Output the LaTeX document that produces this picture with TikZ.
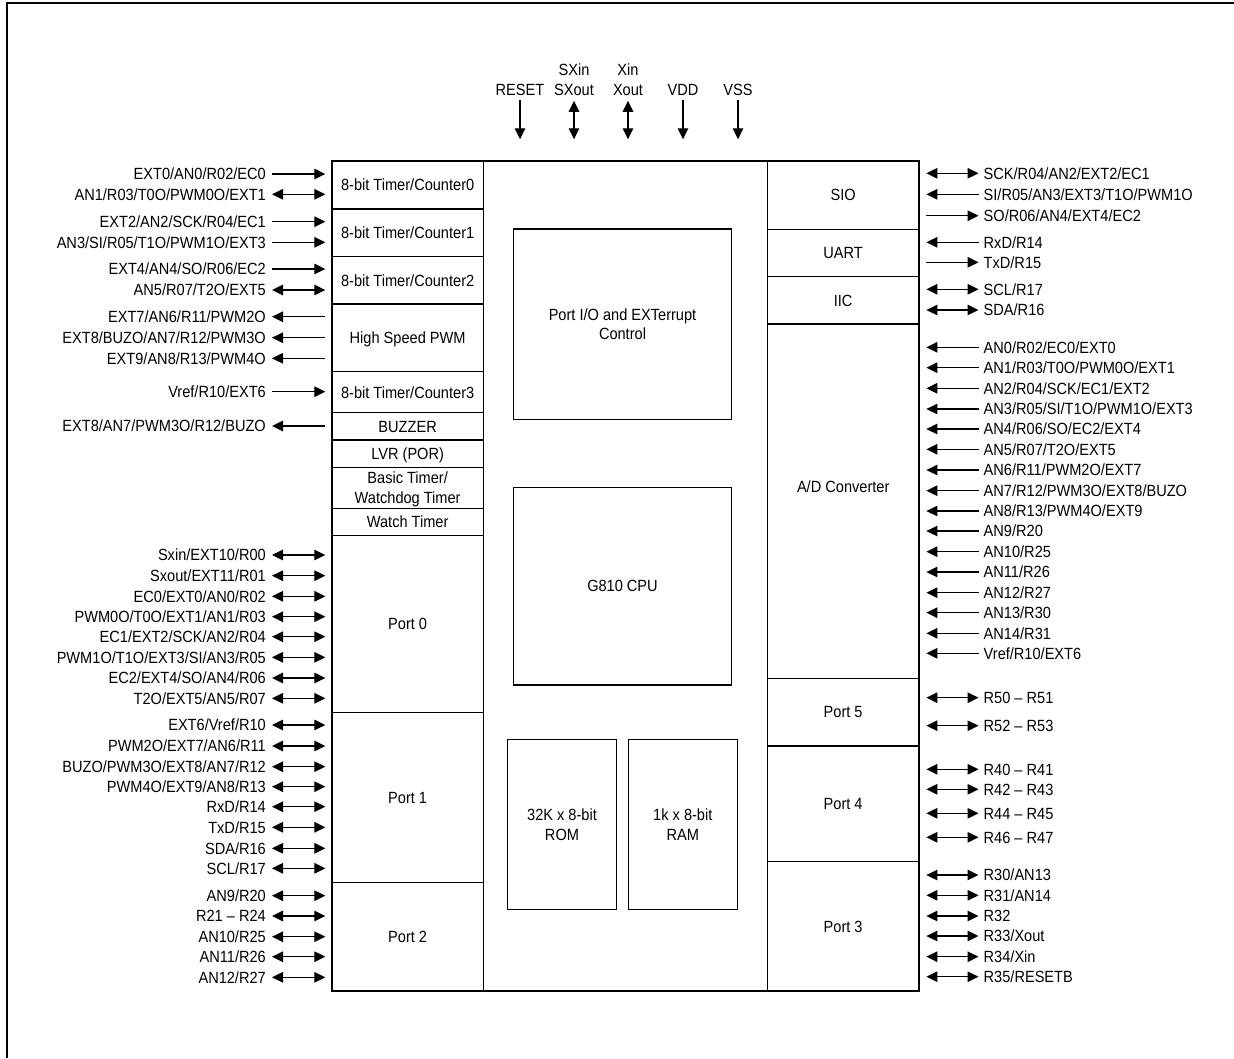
\documentclass[tikz,border=0pt]{standalone}
\usepackage{fontspec}
\setmainfont{Liberation Sans}[FakeStretch=0.9]
\usetikzlibrary{arrows.meta}
\newcommand\mkbox[7][]{\node[box,#1,minimum width={#5-#3},minimum height={#6-#4}] (#2) at ({(#3+#5)/2},{(#4+#6)/2}) {#7};}
\newcommand\lftpin[5]{\node[lbl,anchor=east] (#1) at (266,#2) {#3};
  \draw[cn,#5] ([xshift=6pt]#1.east) -- ([xshift=-6pt]#1.east -| #4.west);}
\newcommand\rgtpin[5]{\node[lbl,anchor=west] (#1) at (983.5,#2) {#3};
  \draw[cn,#5] ([xshift=6.7pt]#1.west -| #4.east) -- ([xshift=-5pt]#1.west);}
\begin{document}
\begin{tikzpicture}[x=1pt,y=-1pt,
  every node/.style={font=\fontsize{16.2}{19.8}\selectfont},
  box/.style={draw,line width=1.4pt,inner sep=0pt,text height=11.6pt,text depth=0pt,align=center},
  lbl/.style={inner sep=0pt,text height=11.6pt,text depth=0pt,align=center},
  cn/.style={line width=1.3pt,>={Triangle[length=11pt,width=10.5pt]}},
  two/.style={text height=31.4pt,text depth=0pt}]
\useasboundingbox (0,0) rectangle (1234,1058);
\draw[line width=2.8pt] (7,1058) -- (7,3) -- (1234,3);
% core
\mkbox{core}{483.3}{161}{767.3}{991}{}
% left column
\mkbox{t0}{332}{161}{483.3}{209}{8-bit Timer/Counter0}
\mkbox{t1}{332}{209}{483.3}{256.7}{8-bit Timer/Counter1}
\mkbox{t2}{332}{256.7}{483.3}{304}{8-bit Timer/Counter2}
\mkbox{hp}{332}{304}{483.3}{371.7}{High Speed PWM}
\mkbox{t3}{332}{371.7}{483.3}{412.7}{8-bit Timer/Counter3}
\mkbox{bz}{332}{412.7}{483.3}{440}{BUZZER}
\mkbox{lvr}{332}{440}{483.3}{467.3}{LVR (POR)}
\mkbox[two]{bt}{332}{467.3}{483.3}{508.3}{Basic Timer/\\Watchdog Timer}
\mkbox{wt}{332}{508.3}{483.3}{535.7}{Watch Timer}
\mkbox{p0}{332}{535.7}{483.3}{712.3}{Port 0}
\mkbox{p1}{332}{712.3}{483.3}{882.3}{Port 1}
\mkbox{p2}{332}{882.3}{483.3}{991}{Port 2}
% right column
\mkbox{sio}{767.3}{161}{919}{229.3}{SIO}
\mkbox{uart}{767.3}{229.3}{919}{276.7}{UART}
\mkbox{iic}{767.3}{276.7}{919}{324}{IIC}
\mkbox{adc}{767.3}{324}{919}{678.3}{}
\node[lbl] (adct) at (843.2,486.7) {A/D Converter};
\mkbox{p5}{767.3}{678.3}{919}{746}{Port 5}
\mkbox{p4}{767.3}{746}{919}{861.7}{Port 4}
\mkbox{p3}{767.3}{861.7}{919}{991}{Port 3}
% inner blocks
\mkbox[two]{pio}{513.3}{229}{731.7}{419.3}{Port I/O and EXTerrupt\\Control}
\mkbox{cpu}{513.3}{487.3}{731.7}{685}{G810 CPU}
\mkbox[two]{rom}{507.3}{739.3}{616.7}{909.3}{32K x 8-bit\\ROM}
\mkbox[two]{ram}{628.3}{739.3}{737.3}{909.3}{1k x 8-bit\\RAM}
% top pins
\node[lbl] (reset) at (520,89.3) {RESET};
\node[lbl,two] (sx) at (574,79.3) {SXin\\SXout};
\node[lbl,two] (xx) at (628,79.3) {Xin\\Xout};
\node[lbl] (vdd) at (683,89.3) {VDD};
\node[lbl] (vss) at (738,89.3) {VSS};
\draw[cn,->] ([yshift=-4.4pt]reset.south) -- ([yshift=21pt]reset.south |- core.north);
\draw[cn,<->] ([yshift=-5.6pt]sx.south) -- ([yshift=21pt]sx.south |- core.north);
\draw[cn,<->] ([yshift=-5.6pt]xx.south) -- ([yshift=21pt]xx.south |- core.north);
\draw[cn,->] ([yshift=-4.4pt]vdd.south) -- ([yshift=21pt]vdd.south |- core.north);
\draw[cn,->] ([yshift=-4.4pt]vss.south) -- ([yshift=21pt]vss.south |- core.north);
% left pins
\lftpin{la1}{174}{EXT0/AN0/R02/EC0}{t0}{->}
\lftpin{la2}{194.3}{AN1/R03/T0O/PWM0O/EXT1}{t0}{<->}
\lftpin{la3}{221.7}{EXT2/AN2/SCK/R04/EC1}{t1}{->}
\lftpin{la4}{242.3}{AN3/SI/R05/T1O/PWM1O/EXT3}{t1}{->}
\lftpin{la5}{269}{EXT4/AN4/SO/R06/EC2}{t2}{->}
\lftpin{la6}{290}{AN5/R07/T2O/EXT5}{t2}{<->}
\lftpin{la7}{316.7}{EXT7/AN6/R11/PWM2O}{hp}{<-}
\lftpin{la8}{337.7}{EXT8/BUZO/AN7/R12/PWM3O}{hp}{<-}
\lftpin{la9}{358.3}{EXT9/AN8/R13/PWM4O}{hp}{<-}
\lftpin{la10}{391.7}{Vref/R10/EXT6}{t3}{->}
\lftpin{la11}{426}{EXT8/AN7/PWM3O/R12/BUZO}{bz}{<-}
\lftpin{lb1}{555}{Sxin/EXT10/R00}{p0}{<->}
\lftpin{lb2}{575.7}{Sxout/EXT11/R01}{p0}{<->}
\lftpin{lb3}{596.3}{EC0/EXT0/AN0/R02}{p0}{<->}
\lftpin{lb4}{616.7}{PWM0O/T0O/EXT1/AN1/R03}{p0}{<->}
\lftpin{lb5}{636.7}{EC1/EXT2/SCK/AN2/R04}{p0}{<->}
\lftpin{lb6}{657.3}{PWM1O/T1O/EXT3/SI/AN3/R05}{p0}{<->}
\lftpin{lb7}{678}{EC2/EXT4/SO/AN4/R06}{p0}{<->}
\lftpin{lb8}{698.3}{T2O/EXT5/AN5/R07}{p0}{<->}
\lftpin{lc1}{725}{EXT6/Vref/R10}{p1}{<->}
\lftpin{lc2}{746}{PWM2O/EXT7/AN6/R11}{p1}{<->}
\lftpin{lc3}{766.7}{BUZO/PWM3O/EXT8/AN7/R12}{p1}{<->}
\lftpin{lc4}{786.7}{PWM4O/EXT9/AN8/R13}{p1}{<->}
\lftpin{lc5}{806.7}{RxD/R14}{p1}{<->}
\lftpin{lc6}{827.3}{TxD/R15}{p1}{<->}
\lftpin{lc7}{848.3}{SDA/R16}{p1}{<->}
\lftpin{lc8}{868.3}{SCL/R17}{p1}{<->}
\lftpin{ld1}{895.7}{AN9/R20}{p2}{<->}
\lftpin{ld2}{916}{R21 – R24}{p2}{<->}
\lftpin{ld3}{936.7}{AN10/R25}{p2}{<->}
\lftpin{ld4}{956.7}{AN11/R26}{p2}{<->}
\lftpin{ld5}{977.3}{AN12/R27}{p2}{<->}
% right pins
\rgtpin{ra1}{173.3}{SCK/R04/AN2/EXT2/EC1}{sio}{<->}
\rgtpin{ra2}{194.3}{SI/R05/AN3/EXT3/T1O/PWM1O}{sio}{<-}
\rgtpin{ra3}{215.7}{SO/R06/AN4/EXT4/EC2}{sio}{->}
\rgtpin{ra4}{242.3}{RxD/R14}{uart}{<-}
\rgtpin{ra5}{262.3}{TxD/R15}{uart}{->}
\rgtpin{ra6}{289.3}{SCL/R17}{iic}{<->}
\rgtpin{ra7}{310}{SDA/R16}{iic}{<->}
\rgtpin{rb1}{347.3}{AN0/R02/EC0/EXT0}{adc}{<-}
\rgtpin{rb2}{367.7}{AN1/R03/T0O/PWM0O/EXT1}{adc}{<-}
\rgtpin{rb3}{388.3}{AN2/R04/SCK/EC1/EXT2}{adc}{<-}
\rgtpin{rb4}{409}{AN3/R05/SI/T1O/PWM1O/EXT3}{adc}{<-}
\rgtpin{rb5}{429}{AN4/R06/SO/EC2/EXT4}{adc}{<-}
\rgtpin{rb6}{449.3}{AN5/R07/T2O/EXT5}{adc}{<-}
\rgtpin{rb7}{470}{AN6/R11/PWM2O/EXT7}{adc}{<-}
\rgtpin{rb8}{490.7}{AN7/R12/PWM3O/EXT8/BUZO}{adc}{<-}
\rgtpin{rb9}{511}{AN8/R13/PWM4O/EXT9}{adc}{<-}
\rgtpin{rb10}{531}{AN9/R20}{adc}{<-}
\rgtpin{rb11}{551.7}{AN10/R25}{adc}{<-}
\rgtpin{rb12}{572}{AN11/R26}{adc}{<-}
\rgtpin{rb13}{592.7}{AN12/R27}{adc}{<-}
\rgtpin{rb14}{612.7}{AN13/R30}{adc}{<-}
\rgtpin{rb15}{633.3}{AN14/R31}{adc}{<-}
\rgtpin{rb16}{653.3}{Vref/R10/EXT6}{adc}{<-}
\rgtpin{rc1}{697.7}{R50 – R51}{p5}{<->}
\rgtpin{rc2}{725.7}{R52 – R53}{p5}{<->}
\rgtpin{rd1}{769.3}{R40 – R41}{p4}{<->}
\rgtpin{rd2}{789.3}{R42 – R43}{p4}{<->}
\rgtpin{rd3}{813.3}{R44 – R45}{p4}{<->}
\rgtpin{rd4}{837.3}{R46 – R47}{p4}{<->}
\rgtpin{re1}{875}{R30/AN13}{p3}{<->}
\rgtpin{re2}{895.3}{R31/AN14}{p3}{<->}
\rgtpin{re3}{916}{R32}{p3}{<->}
\rgtpin{re4}{936}{R33/Xout}{p3}{<->}
\rgtpin{re5}{956.7}{R34/Xin}{p3}{<->}
\rgtpin{re6}{976.7}{R35/RESETB}{p3}{<->}
\end{tikzpicture}
\end{document}
